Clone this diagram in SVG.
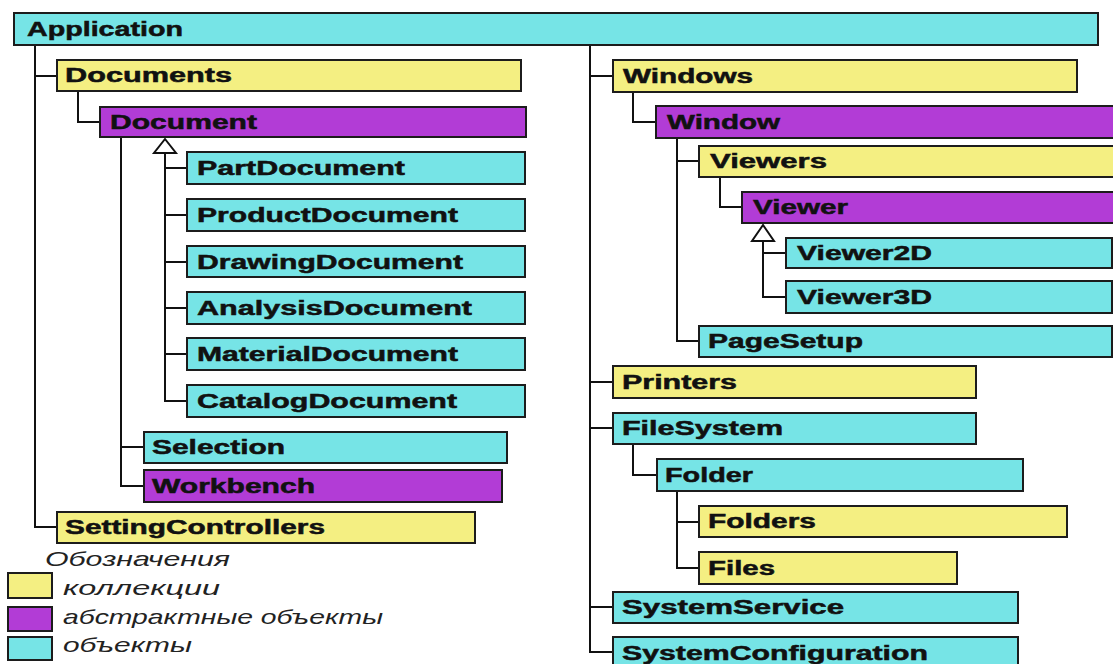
<svg xmlns="http://www.w3.org/2000/svg" width="1113" height="664" viewBox="0 0 1113 664">
<style>
.box{stroke:#1c1c1c;stroke-width:2}
.col{fill:#f4ef82}
.abs{fill:#b23cd6}
.obj{fill:#76e4e6}
.lbl{font-family:"Liberation Sans",Arial,sans-serif;font-weight:bold;font-size:20px;fill:#111;stroke:#111;stroke-width:0.5}
.leg{font-family:"Liberation Sans",Arial,sans-serif;font-style:italic;font-size:21px;fill:#222}
.ln{fill:none;stroke:#111;stroke-width:2}
.tri{fill:#fff;stroke:#111;stroke-width:2}
</style>
<rect width="1113" height="664" fill="#fff"/>
<g id="connectors">
<path class="ln" d="M35 45V527H57M35 76H57"/>
<path class="ln" d="M78 91V122H100"/>
<path class="ln" d="M121 137V486H144M121 447H144"/>
<path class="ln" d="M165 153V401H187M165 168H187M165 215H187M165 262H187M165 308H187M165 354H187"/>
<polygon class="tri" points="165,139 154,153 176,153"/>
<path class="ln" d="M590 45V652H613M590 76H613M590 382H613M590 428H613M590 607H613"/>
<path class="ln" d="M633 92V122H656"/>
<path class="ln" d="M677 138V341H699M677 161H699"/>
<path class="ln" d="M720 177V207H742"/>
<path class="ln" d="M763 241V297H786M763 253H786"/>
<polygon class="tri" points="763,225 752,241 774,241"/>
<path class="ln" d="M633 444V475H657"/>
<path class="ln" d="M677 491V568H699M677 522H699"/>
</g>
<g id="Application"><rect class="box obj" x="14" y="13" width="1084" height="32"/><text class="lbl" x="27" y="36" textLength="156" lengthAdjust="spacingAndGlyphs">Application</text></g>
<g id="Documents"><rect class="box col" x="57" y="60" width="464" height="31"/><text class="lbl" x="65" y="82" textLength="167" lengthAdjust="spacingAndGlyphs">Documents</text></g>
<g id="Document"><rect class="box abs" x="100" y="107" width="426" height="30"/><text class="lbl" x="110" y="129" textLength="147" lengthAdjust="spacingAndGlyphs">Document</text></g>
<g id="PartDocument"><rect class="box obj" x="187" y="152" width="338" height="32"/><text class="lbl" x="197" y="175" textLength="208" lengthAdjust="spacingAndGlyphs">PartDocument</text></g>
<g id="ProductDocument"><rect class="box obj" x="187" y="199" width="338" height="32"/><text class="lbl" x="197" y="222" textLength="261" lengthAdjust="spacingAndGlyphs">ProductDocument</text></g>
<g id="DrawingDocument"><rect class="box obj" x="187" y="246" width="338" height="31"/><text class="lbl" x="197" y="269" textLength="266" lengthAdjust="spacingAndGlyphs">DrawingDocument</text></g>
<g id="AnalysisDocument"><rect class="box obj" x="187" y="292" width="338" height="32"/><text class="lbl" x="197" y="315" textLength="275" lengthAdjust="spacingAndGlyphs">AnalysisDocument</text></g>
<g id="MaterialDocument"><rect class="box obj" x="187" y="338" width="338" height="32"/><text class="lbl" x="197" y="361" textLength="261" lengthAdjust="spacingAndGlyphs">MaterialDocument</text></g>
<g id="CatalogDocument"><rect class="box obj" x="187" y="385" width="338" height="32"/><text class="lbl" x="197" y="408" textLength="260" lengthAdjust="spacingAndGlyphs">CatalogDocument</text></g>
<g id="Selection"><rect class="box obj" x="144" y="432" width="363" height="31"/><text class="lbl" x="152" y="454" textLength="133" lengthAdjust="spacingAndGlyphs">Selection</text></g>
<g id="Workbench"><rect class="box abs" x="144" y="470" width="358" height="32"/><text class="lbl" x="152" y="493" textLength="163" lengthAdjust="spacingAndGlyphs">Workbench</text></g>
<g id="SettingControllers"><rect class="box col" x="57" y="512" width="418" height="31"/><text class="lbl" x="65" y="534" textLength="260" lengthAdjust="spacingAndGlyphs">SettingControllers</text></g>
<g id="Windows"><rect class="box col" x="613" y="60" width="464" height="32"/><text class="lbl" x="623" y="83" textLength="130" lengthAdjust="spacingAndGlyphs">Windows</text></g>
<g id="Window"><rect class="box abs" x="656" y="106" width="470" height="32"/><text class="lbl" x="667" y="129" textLength="113" lengthAdjust="spacingAndGlyphs">Window</text></g>
<g id="Viewers"><rect class="box col" x="699" y="146" width="430" height="31"/><text class="lbl" x="710" y="168" textLength="117" lengthAdjust="spacingAndGlyphs">Viewers</text></g>
<g id="Viewer"><rect class="box abs" x="742" y="192" width="390" height="31"/><text class="lbl" x="753" y="214" textLength="95" lengthAdjust="spacingAndGlyphs">Viewer</text></g>
<g id="Viewer2D"><rect class="box obj" x="786" y="238" width="326" height="30"/><text class="lbl" x="797" y="260" textLength="135" lengthAdjust="spacingAndGlyphs">Viewer2D</text></g>
<g id="Viewer3D"><rect class="box obj" x="786" y="281" width="326" height="32"/><text class="lbl" x="797" y="304" textLength="135" lengthAdjust="spacingAndGlyphs">Viewer3D</text></g>
<g id="PageSetup"><rect class="box obj" x="699" y="326" width="413" height="31"/><text class="lbl" x="708" y="348" textLength="155" lengthAdjust="spacingAndGlyphs">PageSetup</text></g>
<g id="Printers"><rect class="box col" x="613" y="366" width="363" height="32"/><text class="lbl" x="622" y="389" textLength="115" lengthAdjust="spacingAndGlyphs">Printers</text></g>
<g id="FileSystem"><rect class="box obj" x="613" y="413" width="363" height="31"/><text class="lbl" x="622" y="435" textLength="161" lengthAdjust="spacingAndGlyphs">FileSystem</text></g>
<g id="Folder"><rect class="box obj" x="657" y="459" width="366" height="32"/><text class="lbl" x="665" y="482" textLength="88" lengthAdjust="spacingAndGlyphs">Folder</text></g>
<g id="Folders"><rect class="box col" x="699" y="506" width="368" height="31"/><text class="lbl" x="708" y="528" textLength="108" lengthAdjust="spacingAndGlyphs">Folders</text></g>
<g id="Files"><rect class="box col" x="699" y="552" width="258" height="32"/><text class="lbl" x="708" y="575" textLength="67" lengthAdjust="spacingAndGlyphs">Files</text></g>
<g id="SystemService"><rect class="box obj" x="613" y="592" width="405" height="31"/><text class="lbl" x="622" y="614" textLength="222" lengthAdjust="spacingAndGlyphs">SystemService</text></g>
<g id="SystemConfiguration"><rect class="box obj" x="613" y="637" width="405" height="32"/><text class="lbl" x="622" y="660" textLength="306" lengthAdjust="spacingAndGlyphs">SystemConfiguration</text></g>
<g id="legend">
<text class="leg" x="45" y="566" textLength="185" lengthAdjust="spacingAndGlyphs">Обозначения</text>
<rect class="box col" x="8" y="573" width="44" height="25"/>
<text class="leg" x="63" y="595" textLength="157" lengthAdjust="spacingAndGlyphs">коллекции</text>
<rect class="box abs" x="8" y="607" width="44" height="24"/>
<text class="leg" x="63" y="624" textLength="320" lengthAdjust="spacingAndGlyphs">абстрактные объекты</text>
<rect class="box obj" x="8" y="637" width="44" height="23"/>
<text class="leg" x="63" y="652" textLength="129" lengthAdjust="spacingAndGlyphs">объекты</text>
</g>
</svg>
